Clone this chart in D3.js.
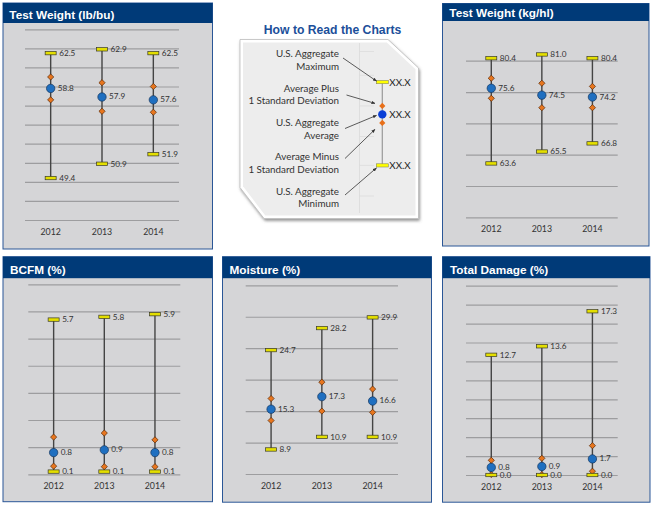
<!DOCTYPE html>
<html>
<head>
<meta charset="utf-8">
<script src="https://cdn.jsdelivr.net/npm/d3@7"></script>
<style>
  body { margin: 0; background: #fff; }
  svg { display: block; }
</style>
</head>
<body>
<div id="chart"></div>
<script>
const years = ["2012", "2013", "2014"];

// Test Weight (lb/bu)
const twLbMax = [62.5, 62.9, 62.5];
const twLbPlus = [60.0, 59.4, 59.0];
const twLbAvg = [58.8, 57.9, 57.6];
const twLbMinus = [57.6, 56.4, 56.3];
const twLbMin = [49.4, 50.9, 51.9];
const twLbTicks = [45, 47, 49, 51, 53, 55, 57, 59, 61, 63, 65];

// Test Weight (kg/hl)
const twKgMax = [80.4, 81.0, 80.4];
const twKgPlus = [77.2, 76.4, 75.9];
const twKgAvg = [75.6, 74.5, 74.2];
const twKgMinus = [74.0, 72.5, 72.5];
const twKgMin = [63.6, 65.5, 66.8];
const twKgTicks = [55, 60, 65, 70, 75, 80];

// BCFM (%)
const bcfmMax = [5.7, 5.8, 5.9];
const bcfmPlus = [1.37, 1.52, 1.27];
const bcfmAvg = [0.8, 0.9, 0.8];
const bcfmMinus = [0.3, 0.28, 0.28];
const bcfmMin = [0.1, 0.1, 0.1];
const bcfmTicks = [0, 1, 2, 3, 4, 5, 6, 7];

// Moisture (%)
const moistMax = [24.7, 28.2, 29.9];
const moistPlus = [17.0, 19.6, 18.5];
const moistAvg = [15.3, 17.3, 16.6];
const moistMinus = [13.5, 15.0, 14.8];
const moistMin = [8.9, 10.9, 10.9];
const moistTicks = [5, 10, 15, 20, 25, 30, 35];

// Total Damage (%)
const dmgMax = [12.7, 13.6, 17.3];
const dmgPlus = [1.55, 1.76, 3.1];
const dmgAvg = [0.8, 0.9, 1.7];
const dmgMinus = [0.05, 0.04, 0.4];
const dmgMin = [0.0, 0.0, 0.0];
const dmgTicks = [0, 2, 4, 6, 8, 10, 12, 14, 16, 18, 20];

// "How to Read the Charts" key
const keyLabels = [
  ["U.S. Aggregate", "Maximum"],
  ["Average Plus", "1 Standard Deviation"],
  ["U.S. Aggregate", "Average"],
  ["Average Minus", "1 Standard Deviation"],
  ["U.S. Aggregate", "Minimum"]
];
const keyLevels = [7.7, 6.3, 5.8, 5.3, 2.8]; // max, plus, avg, minus, min
const keyValueText = "XX.X";

const width = 654;
const height = 506;

const navy = "#003a78";
const bodyFont = "Lato, 'Open Sans', sans-serif";
const headFont = "'Liberation Sans', Arial, sans-serif";

const svg = d3.select("#chart")
  .append("svg")
  .attr("width", width)
  .attr("height", height);

const defs = svg.append("defs");
defs.append("filter")
  .attr("id", "shadow")
  .attr("x", "-10%").attr("y", "-10%")
  .attr("width", "130%").attr("height", "130%")
  .append("feDropShadow")
  .attr("dx", 1).attr("dy", 2)
  .attr("stdDeviation", 1.6)
  .attr("flood-color", "#666")
  .attr("flood-opacity", 0.7);

defs.append("marker")
  .attr("id", "arrow")
  .attr("viewBox", "0 0 10 10")
  .attr("refX", 9).attr("refY", 5)
  .attr("markerWidth", 5).attr("markerHeight", 5)
  .attr("orient", "auto")
  .append("path")
  .attr("d", "M0,1 L10,5 L0,9 Z")
  .attr("fill", "#333");

const panels = [
  { title: "Test Weight (lb/bu)", max: twLbMax, plus: twLbPlus, avg: twLbAvg, minus: twLbMinus, min: twLbMin,
    ticks: twLbTicks, domain: [45, 65],
    x: 3, y: 3, w: 209.5, h: 246, headH: 20, titleY: 19, titleX: 6.3,
    gx: [25, 179], gy: [220, 29.3], yearY: 231.7 },
  { title: "Test Weight (kg/hl)", max: twKgMax, plus: twKgPlus, avg: twKgAvg, minus: twKgMinus, min: twKgMin,
    ticks: twKgTicks, domain: [55, 85],
    x: 442.5, y: 3.5, w: 206.5, h: 242.5, headH: 17.5, titleY: 16.8, titleX: 6.8,
    gx: [466, 617.7], gy: [217.3, 29.4], yearY: 229.3 },
  { title: "BCFM (%)", max: bcfmMax, plus: bcfmPlus, avg: bcfmAvg, minus: bcfmMinus, min: bcfmMin,
    ticks: bcfmTicks, domain: [0, 7],
    x: 3, y: 256.7, w: 209.5, h: 245, headH: 21.5, titleY: 274, titleX: 7,
    gx: [28.3, 180.3], gy: [474.3, 284.3], yearY: 486 },
  { title: "Moisture (%)", max: moistMax, plus: moistPlus, avg: moistAvg, minus: moistMinus, min: moistMin,
    ticks: moistTicks, domain: [5, 35],
    x: 222.5, y: 256.7, w: 209, h: 245.5, headH: 21.5, titleY: 274, titleX: 7,
    gx: [245.7, 398], gy: [474, 285.3], yearY: 486 },
  { title: "Total Damage (%)", max: dmgMax, plus: dmgPlus, avg: dmgAvg, minus: dmgMinus, min: dmgMin,
    ticks: dmgTicks, domain: [0, 20],
    x: 442.5, y: 256.7, w: 207.5, h: 245.5, headH: 21.5, titleY: 274, titleX: 7.5,
    gx: [466, 617.7], gy: [475, 285.7], yearY: 487.3 }
];

const diamond = d3.symbol().type(d3.symbolSquare).size(19);

function drawPanel(p) {
  const g = svg.append("g");

  g.append("rect")
    .attr("x", p.x).attr("y", p.y)
    .attr("width", p.w).attr("height", p.h)
    .attr("fill", "#d5d5d7")
    .attr("stroke", "#2b5797")
    .attr("stroke-width", 1);

  g.append("rect")
    .attr("x", p.x).attr("y", p.y)
    .attr("width", p.w).attr("height", p.headH)
    .attr("fill", navy);

  g.append("text")
    .attr("x", p.x + p.titleX)
    .attr("y", p.titleY)
    .attr("fill", "#fff")
    .attr("font-family", headFont)
    .attr("font-weight", "bold")
    .attr("font-size", 11.8)
    .text(p.title);

  const x = d3.scaleBand().domain(years).range(p.gx);
  const y = d3.scaleLinear().domain(p.domain).range(p.gy);
  const cx = (d) => x(d.year) + x.bandwidth() / 2;

  // gridlines
  const grid = g.append("g")
    .attr("transform", `translate(${p.gx[0]},0)`)
    .call(d3.axisLeft(y).tickValues(p.ticks).tickSize(-(p.gx[1] - p.gx[0])).tickFormat(""));
  grid.select(".domain").remove();
  grid.selectAll("line").attr("stroke", "#9d9d9f").attr("stroke-width", 1.2);

  // year labels
  const xa = g.append("g")
    .attr("transform", `translate(0,${p.yearY})`)
    .call(d3.axisBottom(x).tickSize(0).tickPadding(0));
  xa.select(".domain").remove();
  xa.selectAll("text")
    .attr("dy", "0.35em")
    .attr("fill", "#333")
    .attr("font-family", bodyFont)
    .attr("font-size", 8.8);

  const rows = years.map((yr, i) => ({
    year: yr, max: p.max[i], plus: p.plus[i], avg: p.avg[i], minus: p.minus[i], min: p.min[i]
  }));

  g.selectAll(".range")
    .data(rows).enter().append("line")
    .attr("x1", cx).attr("x2", cx)
    .attr("y1", (d) => y(d.min)).attr("y2", (d) => y(d.max))
    .attr("stroke", "#444")
    .attr("stroke-width", 1.4);

  ["plus", "minus"].forEach((k) => {
    g.selectAll(`.sd-${k}`)
      .data(rows).enter().append("path")
      .attr("d", diamond)
      .attr("transform", (d) => `translate(${cx(d)},${y(d[k])}) rotate(45)`)
      .attr("fill", "#e8761e")
      .attr("stroke", "#5e2c08")
      .attr("stroke-width", 0.7);
  });

  ["max", "min"].forEach((k) => {
    g.selectAll(`.bar-${k}`)
      .data(rows).enter().append("rect")
      .attr("x", (d) => cx(d) - 5.5)
      .attr("y", (d) => y(d[k]) - 1.7)
      .attr("width", 11).attr("height", 3.4)
      .attr("fill", "#e4df00")
      .attr("stroke", "#3a3a2a")
      .attr("stroke-width", 0.7);

    g.selectAll(`.lab-${k}`)
      .data(rows).enter().append("text")
      .attr("x", (d) => cx(d) + 8.5)
      .attr("y", (d) => y(d[k]))
      .attr("dy", "0.35em")
      .attr("fill", "#333")
      .attr("font-family", bodyFont)
      .attr("font-size", 8.2)
      .text((d) => d[k].toFixed(1));
  });

  g.selectAll(".avg")
    .data(rows).enter().append("circle")
    .attr("cx", cx).attr("cy", (d) => y(d.avg))
    .attr("r", 4.2)
    .attr("fill", "#1f6fc0")
    .attr("stroke", "#16375e")
    .attr("stroke-width", 0.7);

  g.selectAll(".lab-avg")
    .data(rows).enter().append("text")
    .attr("x", (d) => cx(d) + 7)
    .attr("y", (d) => y(d.avg))
    .attr("dy", "0.3em")
    .attr("fill", "#333")
    .attr("font-family", bodyFont)
    .attr("font-size", 8.2)
    .text((d) => d.avg.toFixed(1));
}

panels.forEach(drawPanel);

// ---- How to Read the Charts ----
const key = svg.append("g");

key.append("text")
  .attr("x", 332.5).attr("y", 34.2)
  .attr("text-anchor", "middle")
  .attr("fill", "#1c4f9a")
  .attr("font-family", headFont)
  .attr("font-weight", "bold")
  .attr("font-size", 12.2)
  .text("How to Read the Charts");

const cardOuter = [[240, 39.5], [388, 39.5], [418.5, 68], [418.5, 218.5], [264, 218.5], [240, 187.5]];
const cardInner = [[243, 42.5], [386.8, 42.5], [415.5, 69.3], [415.5, 215.5], [265.3, 215.5], [243, 186.3]];

key.append("path")
  .attr("d", d3.line()(cardOuter) + "Z")
  .attr("fill", "#fff")
  .attr("stroke", "#bdbdbd")
  .attr("stroke-width", 0.8)
  .attr("filter", "url(#shadow)");

key.append("path")
  .attr("d", d3.line()(cardInner) + "Z")
  .attr("fill", "#ededed");

const keyY = d3.scaleLinear().domain([0, 10]).range([213, 43]);
const keyX = 382.3;

// faint axis and gridlines inside the key
key.append("line")
  .attr("x1", 359.5).attr("x2", 359.5)
  .attr("y1", 43).attr("y2", 213)
  .attr("stroke", "#d9d9d9").attr("stroke-width", 0.8);
key.selectAll(".kgrid")
  .data([1, 2.8, 4.5, 6.3, 8.1, 9.5]).enter().append("line")
  .attr("x1", 359.5).attr("x2", 374)
  .attr("y1", (d) => keyY(d)).attr("y2", (d) => keyY(d))
  .attr("stroke", "#dcdcdc").attr("stroke-width", 0.8);

key.append("line")
  .attr("x1", keyX).attr("x2", keyX)
  .attr("y1", keyY(keyLevels[0])).attr("y2", keyY(keyLevels[4]))
  .attr("stroke", "#9a9a9a").attr("stroke-width", 1.2);

[keyLevels[1], keyLevels[3]].forEach((v) => {
  key.append("path")
    .attr("d", diamond)
    .attr("transform", `translate(${keyX},${keyY(v)}) rotate(45)`)
    .attr("fill", "#e8701a");
});

[keyLevels[0], keyLevels[4]].forEach((v) => {
  key.append("rect")
    .attr("x", keyX - 6).attr("y", keyY(v) - 1.6)
    .attr("width", 12).attr("height", 3.2)
    .attr("fill", "#ffff00")
    .attr("stroke", "#8a8a5a")
    .attr("stroke-width", 0.6);
});

key.append("circle")
  .attr("cx", keyX).attr("cy", keyY(keyLevels[2]))
  .attr("r", 4.2)
  .attr("fill", "#0a3fd6");

[keyLevels[0], keyLevels[2], keyLevels[4]].forEach((v) => {
  key.append("text")
    .attr("x", keyX + 7).attr("y", keyY(v))
    .attr("dy", "0.35em")
    .attr("fill", "#222")
    .attr("font-family", bodyFont)
    .attr("font-size", 9.8)
    .text(keyValueText);
});

const labelTop = 54;
const labelStep = 34.3;
keyLabels.forEach((lines, i) => {
  lines.forEach((t, j) => {
    key.append("text")
      .attr("x", 339).attr("y", labelTop + i * labelStep + j * 12.6)
      .attr("dy", "0.35em")
      .attr("text-anchor", "end")
      .attr("fill", "#333")
      .attr("font-family", bodyFont)
      .attr("font-size", 9.8)
      .text(t);
  });
});

// arrows from each label to its marker
const arrowTails = [[343, 58], [346.5, 95], [345, 128.5], [345, 158.5], [345, 195]];
const arrowHeadOffsets = [[-5.8, -1], [-7.3, -2.5], [-5.8, 1], [-7.3, 6.5], [-5.8, 2.5]];
arrowTails.forEach((t, i) => {
  key.append("line")
    .attr("x1", t[0]).attr("y1", t[1])
    .attr("x2", keyX + arrowHeadOffsets[i][0])
    .attr("y2", keyY(keyLevels[i]) + arrowHeadOffsets[i][1])
    .attr("stroke", "#333")
    .attr("stroke-width", 0.8)
    .attr("marker-end", "url(#arrow)");
});
</script>
</body>
</html>
